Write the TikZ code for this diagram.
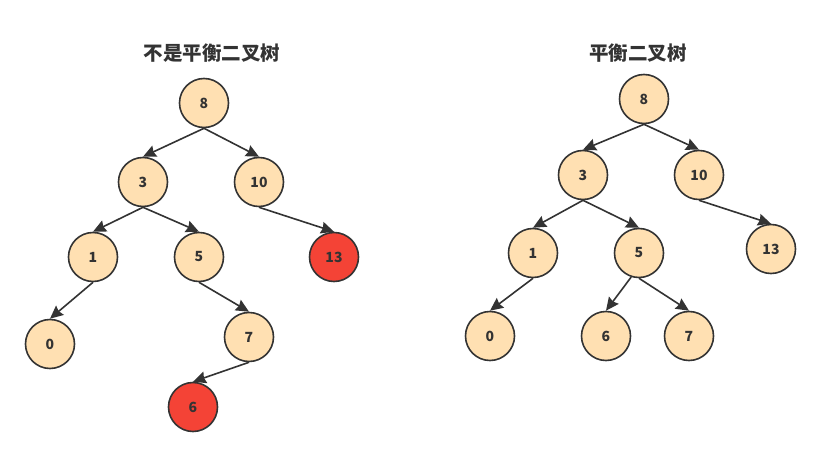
\documentclass[tikz,border=0pt]{standalone}
\usepackage{fontspec}
\setmainfont{Noto Sans CJK SC}
\newfontfamily\cjk{Noto Sans CJK SC}
\usetikzlibrary{arrows.meta}
\definecolor{peach}{HTML}{FFE0B2}
\definecolor{hot}{HTML}{F44336}
\definecolor{ink}{HTML}{333333}
\tikzset{
  tn/.style={circle, draw=ink, line width=1.6pt, fill=peach, minimum size=49pt, inner sep=0pt,
    font=\fontsize{14}{16}\selectfont\bfseries, text=ink},
  bad/.style={tn, fill=hot},
  edge/.style={draw=ink, line width=1.6pt, -{Stealth[length=13pt,width=12pt,inset=1.5pt]}},
  ttl/.style={font=\cjk\fontsize{19.5}{22}\selectfont\bfseries, text=ink}
}
\begin{document}
\begin{tikzpicture}[x=1pt,y=-1pt]
\useasboundingbox[fill=white] (0,0) rectangle (821,457);
% left tree
\node[ttl] (t1) at (212,53) {不是平衡二叉树};
\node[tn] (a8) at (204,103) {8};
\node[tn] (a3) at (143,182) {3};
\node[tn] (a10) at (259,182) {10};
\node[tn] (a1) at (93,257) {1};
\node[tn] (a5) at (199,257) {5};
\node[bad] (a13) at (334,257) {13};
\node[tn] (a0) at (50,344) {0};
\node[tn] (a7) at (249,337) {7};
\node[bad] (a6) at (193,407) {6};
\draw[edge] (a8.south) -- (a3.north);
\draw[edge] (a8.south) -- (a10.north);
\draw[edge] (a3.south) -- (a1.north);
\draw[edge] (a3.south) -- (a5.north);
\draw[edge] (a10.south) -- (a13.north);
\draw[edge] (a1.south) -- (a0.north);
\draw[edge] (a5.south) -- (a7.north);
\draw[edge] (a7.south) -- (a6.north);
% right tree
\node[ttl] (t2) at (638,53) {平衡二叉树};
\node[tn] (b8) at (644,99) {8};
\node[tn] (b3) at (583,175) {3};
\node[tn] (b10) at (699,175) {10};
\node[tn] (b1) at (533,253) {1};
\node[tn] (b5) at (639,253) {5};
\node[tn] (b13) at (771,249) {13};
\node[tn] (b0) at (490,336) {0};
\node[tn] (b6) at (606,336) {6};
\node[tn] (b7) at (689,336) {7};
\draw[edge] (b8.south) -- (b3.north);
\draw[edge] (b8.south) -- (b10.north);
\draw[edge] (b3.south) -- (b1.north);
\draw[edge] (b3.south) -- (b5.north);
\draw[edge] (b10.south) -- (b13.north);
\draw[edge] (b1.south) -- (b0.north);
\draw[edge] (b5.252) -- (b6.north);
\draw[edge] (b5.south) -- (b7.north);
\end{tikzpicture}
\end{document}
